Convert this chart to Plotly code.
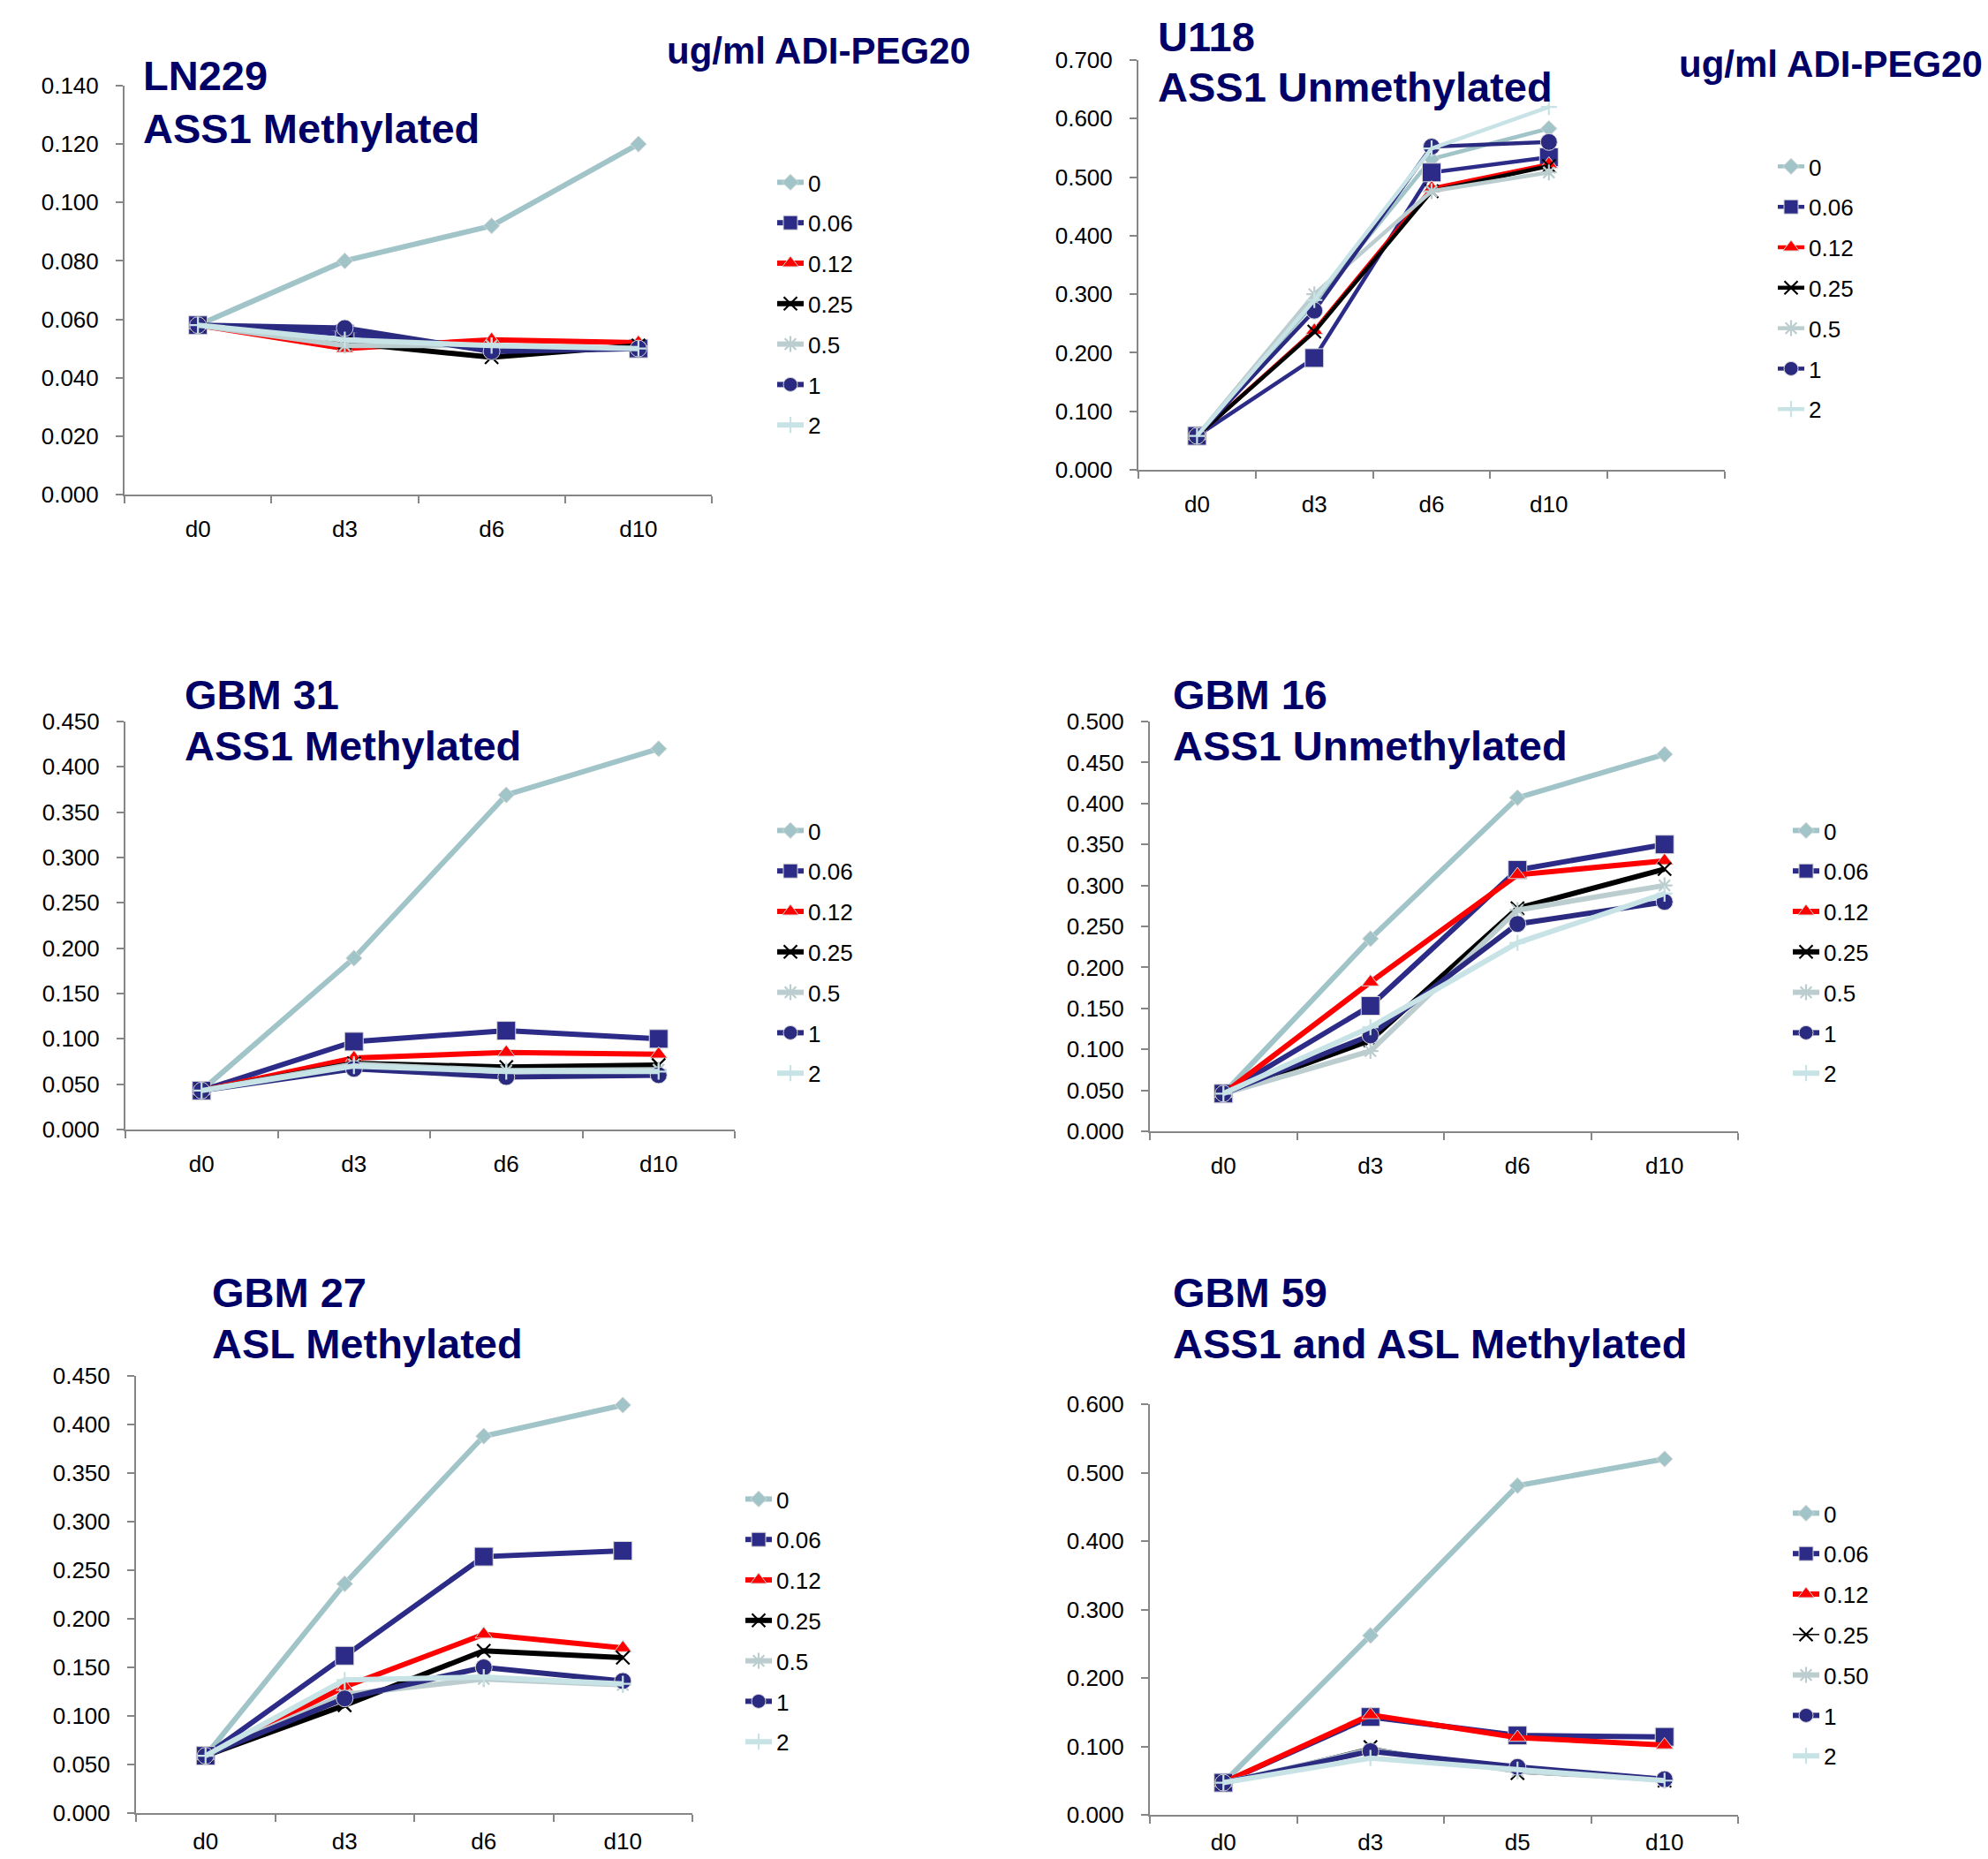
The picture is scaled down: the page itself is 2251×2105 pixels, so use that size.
import plotly.graph_objects as go

# ---------------------------------------------------------------- data
days = ["d0", "d3", "d6", "d10"]
days_gbm59 = ["d0", "d3", "d5", "d10"]
doses = ["0", "0.06", "0.12", "0.25", "0.5", "1", "2"]
doses_gbm59 = ["0", "0.06", "0.12", "0.25", "0.50", "1", "2"]

# one row per ADI-PEG20 dose, one column per day
ln229 = [
    [0.058, 0.080, 0.092, 0.120],
    [0.058, 0.055, 0.050, 0.050],
    [0.058, 0.050, 0.053, 0.052],
    [0.058, 0.052, 0.047, 0.051],
    [0.058, 0.051, 0.051, 0.050],
    [0.058, 0.057, 0.049, 0.050],
    [0.058, 0.053, 0.051, 0.050],
]
u118 = [
    [0.058, 0.285, 0.531, 0.583],
    [0.058, 0.191, 0.508, 0.534],
    [0.058, 0.238, 0.481, 0.522],
    [0.058, 0.236, 0.476, 0.519],
    [0.058, 0.300, 0.476, 0.508],
    [0.058, 0.272, 0.552, 0.560],
    [0.058, 0.290, 0.549, 0.620],
]
gbm31 = [
    [0.043, 0.189, 0.369, 0.420],
    [0.043, 0.097, 0.109, 0.100],
    [0.043, 0.079, 0.085, 0.083],
    [0.043, 0.073, 0.069, 0.071],
    [0.043, 0.072, 0.065, 0.066],
    [0.043, 0.067, 0.058, 0.060],
    [0.043, 0.070, 0.064, 0.064],
]
gbm16 = [
    [0.046, 0.235, 0.407, 0.460],
    [0.046, 0.153, 0.319, 0.350],
    [0.046, 0.182, 0.313, 0.330],
    [0.046, 0.111, 0.272, 0.320],
    [0.046, 0.098, 0.270, 0.300],
    [0.046, 0.117, 0.253, 0.280],
    [0.046, 0.127, 0.230, 0.290],
]
gbm27 = [
    [0.059, 0.236, 0.388, 0.420],
    [0.059, 0.162, 0.264, 0.270],
    [0.059, 0.130, 0.184, 0.170],
    [0.059, 0.111, 0.167, 0.160],
    [0.059, 0.122, 0.138, 0.132],
    [0.059, 0.118, 0.150, 0.136],
    [0.059, 0.137, 0.140, 0.133],
]
gbm59 = [
    [0.047, 0.262, 0.481, 0.520],
    [0.047, 0.143, 0.116, 0.114],
    [0.047, 0.146, 0.113, 0.102],
    [0.047, 0.099, 0.061, 0.050],
    [0.047, 0.095, 0.064, 0.051],
    [0.047, 0.093, 0.070, 0.052],
    [0.047, 0.083, 0.066, 0.050],
]

# ---------------------------------------------------------------- styles
W, H = 2251, 2105
FONT = "Liberation Sans, Arial, sans-serif"
NAVY_TEXT = "#000066"
AXIS_GREY = "#868686"

colors = ["#A0C4C8", "#2C2C88", "#FF0000", "#000000", "#BCCDCF", "#2A2A80", "#C8E3E6"]
symbols = ["diamond", "square", "triangle-up", "x-thin", "asterisk", "circle", "cross-thin"]
msizes = [14, 21, 17, 15, 15, 19, 13]
thin_symbol = [False, False, False, True, True, False, True]


def px_x(v):
    return v / W


def px_y(v):
    return 1 - v / H


# plot area (left, right, top, bottom) in pixels, y max, y step,
# title lines, title positions, legend position, day-label standoff
panels = [
    dict(vals=ln229, cats=days, names=doses, ymax=0.14, dtick=0.02,
         box=(141, 806, 97, 560), title=("LN229", "ASS1 Methylated"),
         tx=160, ty=(86, 146), legend=(875, 183), lw=6, extra=False, xoff=15),
    dict(vals=u118, cats=days, names=doses, ymax=0.7, dtick=0.1,
         box=(1289, 1953, 68, 532), title=("U118", "ASS1 Unmethylated"),
         tx=1309, ty=(41, 99), legend=(2008, 165), lw=4.5, extra=True, xoff=15),
    dict(vals=gbm31, cats=days, names=doses, ymax=0.45, dtick=0.05,
         box=(142, 832, 817, 1279), title=("GBM 31", "ASS1 Methylated"),
         tx=207, ty=(786, 844), legend=(875, 917), lw=6, extra=False, xoff=15),
    dict(vals=gbm16, cats=days, names=doses, ymax=0.5, dtick=0.05,
         box=(1302, 1968, 817, 1281), title=("GBM 16", "ASS1 Unmethylated"),
         tx=1326, ty=(786, 844), legend=(2025, 917), lw=6, extra=False, xoff=15),
    dict(vals=gbm27, cats=days, names=doses, ymax=0.45, dtick=0.05,
         box=(154, 784, 1558, 2053), title=("GBM 27", "ASL Methylated"),
         tx=238, ty=(1463, 1521), legend=(839, 1674), lw=6, extra=False, xoff=8),
    dict(vals=gbm59, cats=days_gbm59, names=doses_gbm59, ymax=0.6, dtick=0.1,
         box=(1302, 1968, 1590, 2055), title=("GBM 59", "ASS1 and ASL Methylated"),
         tx=1326, ty=(1463, 1521), legend=(2025, 1690), lw=6, extra=False, xoff=7),
]

fig = go.Figure()
layout = dict(
    width=W, height=H,
    margin=dict(l=0, r=0, t=0, b=0, pad=0, autoexpand=False),
    paper_bgcolor="white", plot_bgcolor="white", showlegend=True,
    annotations=[],
)

for i, p in enumerate(panels, start=1):
    sfx = "" if i == 1 else str(i)
    legend_id = "legend" + sfx
    for k, (name, row) in enumerate(zip(p["names"], p["vals"])):
        c = colors[k]
        lw = p["lw"]
        if i == 6 and k == 3:
            lw = 1.5
        marker = dict(symbol=symbols[k], size=msizes[k], color=c)
        if thin_symbol[k]:
            marker["line"] = dict(color=c, width=2.2)
        else:
            marker["line"] = dict(color="#D8D8D8", width=1)
        fig.add_trace(go.Scatter(
            x=p["cats"], y=row, name=name, mode="lines+markers",
            line=dict(color=c, width=lw), marker=marker,
            xaxis="x" + sfx, yaxis="y" + sfx,
            legend=legend_id, legendgroup=f"p{i}_{name}",
        ))

    left, right, top, bottom = p["box"]
    cat_array = list(p["cats"]) + ([" "] if p["extra"] else [])
    layout["xaxis" + sfx] = dict(
        domain=[px_x(left), px_x(right)], anchor="y" + sfx,
        type="category", categoryorder="array", categoryarray=cat_array,
        range=[-0.5, len(cat_array) - 0.5],
        tickson="boundaries", ticks="outside", ticklen=8, tickwidth=2,
        tickcolor=AXIS_GREY, showline=True, linecolor=AXIS_GREY, linewidth=2,
        showgrid=False, zeroline=False, ticklabelstandoff=p["xoff"],
        tickfont=dict(family=FONT, size=26, color="black"),
    )
    layout["yaxis" + sfx] = dict(
        domain=[px_y(bottom), px_y(top)], anchor="x" + sfx,
        range=[0, p["ymax"]], dtick=p["dtick"], tick0=0, tickformat=".3f",
        ticks="outside", ticklen=8, tickwidth=2, tickcolor=AXIS_GREY,
        showline=True, linecolor=AXIS_GREY, linewidth=2,
        showgrid=False, zeroline=False, ticklabelstandoff=14,
        tickfont=dict(family=FONT, size=26, color="black"),
    )
    lx, ly = p["legend"]
    layout[legend_id] = dict(
        x=px_x(lx), y=px_y(ly), xanchor="left", yanchor="top",
        xref="paper", yref="paper",
        font=dict(family=FONT, size=26, color="black"),
        bgcolor="rgba(0,0,0,0)", traceorder="grouped", tracegroupgap=9,
        itemclick=False, itemdoubleclick=False,
    )
    for line_text, yc in zip(p["title"], p["ty"]):
        layout["annotations"].append(dict(
            text=f"<b>{line_text}</b>", x=px_x(p["tx"]), y=px_y(yc),
            xref="paper", yref="paper", xanchor="left", yanchor="middle",
            showarrow=False, font=dict(family=FONT, size=47, color=NAVY_TEXT),
        ))

# dose unit headings above the legends of the top row
for hx, hy in [(753, 57), (1899, 72)]:
    layout["annotations"].append(dict(
        text="<b>ug/ml ADI-PEG20</b>", x=px_x(hx), y=px_y(hy),
        xref="paper", yref="paper", xanchor="left", yanchor="middle",
        showarrow=False, font=dict(family=FONT, size=42, color=NAVY_TEXT),
    ))

fig.update_layout(**layout)
fig.write_html("out.html")
